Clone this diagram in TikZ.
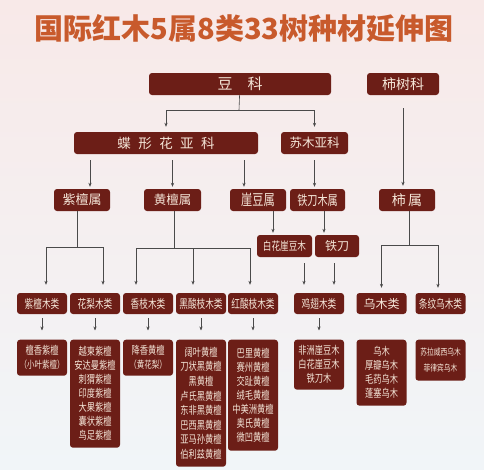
\documentclass[tikz,border=0pt]{standalone}
\usepackage{fontspec}
\newfontfamily\cjk{Noto Sans CJK SC}
\newfontfamily\cjkn[FakeStretch=0.75]{Noto Sans CJK SC}
\newfontfamily\cjkc[FakeStretch=0.72]{Noto Sans CJK SC}
\usetikzlibrary{arrows.meta}
\definecolor{boxred}{HTML}{6C1E17}
\definecolor{boxtext}{HTML}{F5E6D8}
\definecolor{titlered}{HTML}{C85A2C}
\definecolor{linkgray}{HTML}{4A4A4A}
\definecolor{bgtop}{RGB}{248,233,232}
\definecolor{bgbottom}{RGB}{241,245,248}

\begin{document}
\begin{tikzpicture}[
  x=1pt, y=-1pt,
  font=\cjk,
  box/.style={fill=boxred, text=boxtext, rounded corners=3pt, inner sep=0pt, minimum height=22pt},
  classbox/.style={box, minimum height=21pt, minimum width=50pt, font=\cjkc\fontsize{12}{14}\selectfont},
  specbox/.style={fill=boxred, text=boxtext, rounded corners=3pt, inner sep=0pt, minimum width=50pt, anchor=north, align=center, font=\cjkn\fontsize{11}{14}\selectfont},
  link/.style={draw=linkgray, line width=0.6pt},
  arrow/.style={link, -{Stealth[length=4pt, width=3.2pt]}}
]

\useasboundingbox (0,0) rectangle (484,469);
\shade[top color=bgtop, bottom color=bgbottom] (0,0) rectangle (484,469);

\node[font=\cjk\bfseries\fontsize{29}{34}\selectfont, text=titlered] (title) at (244,28) {国际红木5属8类33树种材延伸图};

\node[box, minimum width=182pt, font=\cjk\fontsize{15}{18}\selectfont] (douke) at (240,84) {豆\hspace{1em}科};
\node[box, minimum width=72pt, font=\cjk\fontsize{14}{17}\selectfont] (shishuke) at (403,84) {柿树科};

\node[box, minimum width=184pt, font=\cjk\fontsize{13.5}{16}\selectfont] (diexing) at (166,143) {蝶\hspace{0.55em}形\hspace{0.55em}花\hspace{0.55em}亚\hspace{0.55em}科};
\node[box, minimum width=67pt, font=\cjk\fontsize{12.5}{15}\selectfont] (sumu) at (314.5,143) {苏木亚科};

\node[box, minimum width=56pt, font=\cjk\fontsize{13}{16}\selectfont] (zitanshu) at (82,200) {紫檀属};
\node[box, minimum width=57pt, font=\cjk\fontsize{12.5}{15}\selectfont] (huangtanshu) at (172.5,200) {黄檀属};
\node[box, minimum width=56pt, font=\cjkn\fontsize{15}{17}\selectfont] (yadoushu) at (258,200) {崖豆属};
\node[box, minimum width=55pt, font=\cjkn\fontsize{13.5}{15}\selectfont] (tiedaoshu) at (317.5,200) {铁刀木属};
\node[box, minimum width=56pt, font=\cjk\fontsize{14}{17}\selectfont] (shishu) at (407,200) {柿\hspace{0.15em}属};

\node[box, minimum width=55pt, font=\cjkn\fontsize{11.5}{13}\selectfont] (baihua) at (284.5,246) {白花崖豆木};
\node[box, minimum width=44pt, font=\cjk\fontsize{12}{14}\selectfont] (tiedao) at (337,246) {铁刀};

\node[classbox] (c1) at (42,303.5) {紫檀木类};
\node[classbox] (c2) at (95,303.5) {花梨木类};
\node[classbox] (c3) at (148,303.5) {香枝木类};
\node[classbox] (c4) at (201,303.5) {黑酸枝木类};
\node[classbox] (c5) at (253,303.5) {红酸枝木类};
\node[classbox] (c6) at (319,303.5) {鸡翅木类};
\node[classbox, font=\cjk\fontsize{12}{14}\selectfont] (c7) at (381.5,303.5) {乌木类};
\node[classbox] (c8) at (440.5,303.5) {条纹乌木类};

\node[specbox, minimum height=36pt] (s1) at (42,339.5) {檀香紫檀\\{\fontsize{10}{14}\selectfont （小叶紫檀）}};
\node[specbox, minimum height=108pt] (s2) at (95,339.5) {越柬紫檀\\安达曼紫檀\\刺猬紫檀\\印度紫檀\\大果紫檀\\囊状紫檀\\鸟足紫檀};
\node[specbox, minimum height=36pt] (s3) at (148,339.5) {降香黄檀\\{\fontsize{10}{14}\selectfont （黄花梨）}};
\node[specbox, minimum height=127pt, font=\cjkn\fontsize{11}{14.6}\selectfont] (s4) at (201,339.5) {阔叶黄檀\\刀状黑黄檀\\黑黄檀\\卢氏黑黄檀\\东非黑黄檀\\巴西黑黄檀\\亚马孙黄檀\\伯利兹黄檀};
\node[specbox, minimum height=111pt] (s5) at (253,339.5) {巴里黄檀\\赛州黄檀\\交趾黄檀\\绒毛黄檀\\中美洲黄檀\\奥氏黄檀\\微凹黄檀};
\node[specbox, minimum height=50pt] (s6) at (319,339.5) {非洲崖豆木\\白花崖豆木\\铁刀木};
\node[specbox, minimum height=66pt] (s7) at (381.5,339.5) {乌木\\厚瓣乌木\\毛药乌木\\蓬塞乌木};
\node[specbox, minimum height=41pt, font=\cjkn\fontsize{9}{16}\selectfont] (s8) at (440.5,339.5) {苏拉威西乌木\\菲律宾乌木};

\coordinate (jdou) at (239,110);
\coordinate (jzitan) at (77,247);
\coordinate (jhuang) at (174,248);
\coordinate (jshi) at (409,245);

\draw[link] (douke) -- (jdou);
\draw[arrow, shorten >=5pt] (jdou) -| (diexing);
\draw[arrow, shorten >=5pt] (jdou) -| (sumu);
\draw[arrow, shorten <=13pt, shorten >=3pt] (shishuke) -- (shishuke |- shishu.north);

\coordinate (a1) at ([xshift=8pt]zitanshu.north);
\coordinate (a2) at (huangtanshu.north);
\coordinate (a3) at ([xshift=-14pt]yadoushu.north);
\draw[arrow, shorten <=6pt, shorten >=2pt] (a1 |- diexing.south) -- (a1);
\draw[arrow, shorten <=6pt, shorten >=2pt] (a2 |- diexing.south) -- (a2);
\draw[arrow, shorten <=6pt, shorten >=2pt] (a3 |- diexing.south) -- (a3);
\draw[arrow, shorten <=6pt, shorten >=2pt] (sumu) -- (sumu |- tiedaoshu.north);

\draw[link] (zitanshu.south -| jzitan) -- (jzitan);
\draw[arrow, shorten >=8pt] (jzitan) -| ([xshift=4pt]c1.north);
\draw[arrow, shorten >=8pt] (jzitan) -| ([xshift=8pt]c2.north);

\draw[link] (huangtanshu.south -| jhuang) -- (jhuang);
\draw[arrow, shorten >=8pt] (jhuang) -| ([xshift=-12pt]c3.north);
\draw[arrow, shorten >=8pt] (jhuang) -| ([xshift=-8pt]c4.north);
\draw[arrow, shorten >=8pt] (jhuang) -| ([xshift=-3pt]c5.north);

\coordinate (b1) at ([xshift=-11.5pt]baihua.north);
\coordinate (b2) at ([xshift=-13pt]tiedao.north);
\draw[arrow, shorten >=2pt] (b1 |- yadoushu.south) -- (b1);
\draw[arrow, shorten >=2pt] (b2 |- tiedaoshu.south) -- (b2);

\coordinate (d1) at ([xshift=-15pt]c6.north);
\coordinate (d2) at ([xshift=15pt]c6.north);
\draw[arrow, shorten <=6pt, shorten >=8pt] (d1 |- baihua.south) -- (d1);
\draw[arrow, shorten <=6pt, shorten >=8pt] (d2 |- tiedao.south) -- (d2);

\draw[link] (shishu.south -| jshi) -- (jshi);
\draw[arrow, shorten >=5pt] (jshi) -| (c7);
\draw[arrow, shorten >=5pt] (jshi) -| ([xshift=-2.5pt]c8.north);

\draw[arrow, shorten <=4pt, shorten >=9pt] (c1) -- (s1);
\draw[arrow, shorten <=4pt, shorten >=9pt] (c2) -- (s2);
\draw[arrow, shorten <=4pt, shorten >=9pt] (c3) -- (s3);
\draw[arrow, shorten <=4pt, shorten >=9pt] (c4) -- (s4);
\draw[arrow, shorten <=4pt, shorten >=9pt] (c5) -- (s5);
\draw[arrow, shorten <=4pt, shorten >=9pt] (c6) -- (s6);

\end{tikzpicture}
\end{document}
